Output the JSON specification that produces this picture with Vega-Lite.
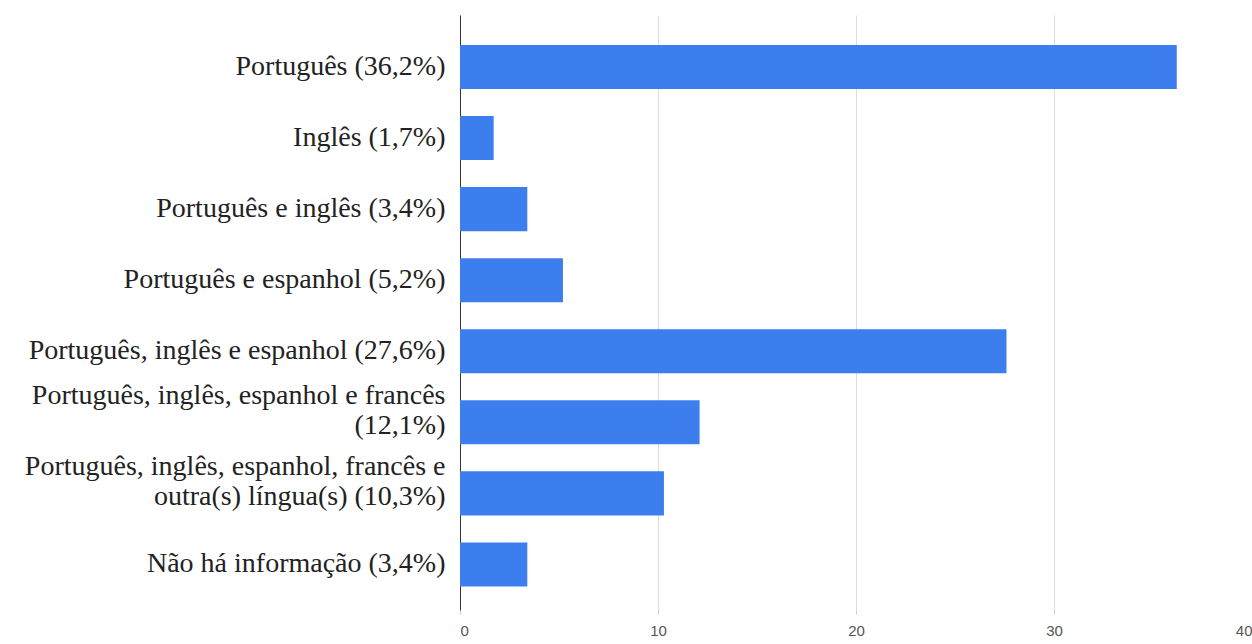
{
  "$schema": "https://vega.github.io/schema/vega-lite/v6.json",
  "autosize": "none",
  "width": 792,
  "height": 595,
  "padding": {"left": 460, "top": 15, "right": 0, "bottom": 34},
  "background": "white",
  "config": {"view": {"stroke": null}},
  "data": {"values": [
    {"categoria": "Português (36,2%)", "valor": 36.2},
    {"categoria": "Inglês (1,7%)", "valor": 1.7},
    {"categoria": "Português e inglês (3,4%)", "valor": 3.4},
    {"categoria": "Português e espanhol (5,2%)", "valor": 5.2},
    {"categoria": "Português, inglês e espanhol (27,6%)", "valor": 27.6},
    {"categoria": "Português, inglês, espanhol e francês|(12,1%)", "valor": 12.1},
    {"categoria": "Português, inglês, espanhol, francês e|outra(s) língua(s) (10,3%)", "valor": 10.3},
    {"categoria": "Não há informação (3,4%)", "valor": 3.4}
  ]},
  "mark": {"type": "bar", "color": "#3c7eee"},
  "encoding": {
    "y": {
      "field": "categoria", "type": "nominal", "sort": null,
      "scale": {"paddingInner": 0.38, "paddingOuter": 0.376, "align": 0.56},
      "axis": {
        "title": null, "ticks": false, "labelPadding": 15,
        "labelFont": "Liberation Serif", "labelFontSize": 28, "labelColor": "#222222",
        "labelLimit": 600, "labelLineHeight": 30,
        "labelExpr": "split(datum.value, '|')",
        "labelOffset": {"condition": {"test": "indexof(datum.value, '|') >= 0", "value": -26}, "value": 0},
        "domainColor": "#333333", "domainWidth": 1
      }
    },
    "x": {
      "field": "valor", "type": "quantitative",
      "scale": {"domain": [0, 40], "nice": false},
      "axis": {
        "title": null, "values": [0, 10, 20, 30, 40],
        "domain": false, "grid": true, "gridColor": "#dddddd",
        "ticks": true, "tickColor": "#cccccc", "tickSize": 4,
        "labelFont": "Liberation Sans", "labelFontSize": 15, "labelColor": "#555555",
        "labelPadding": 9
      }
    }
  }
}
